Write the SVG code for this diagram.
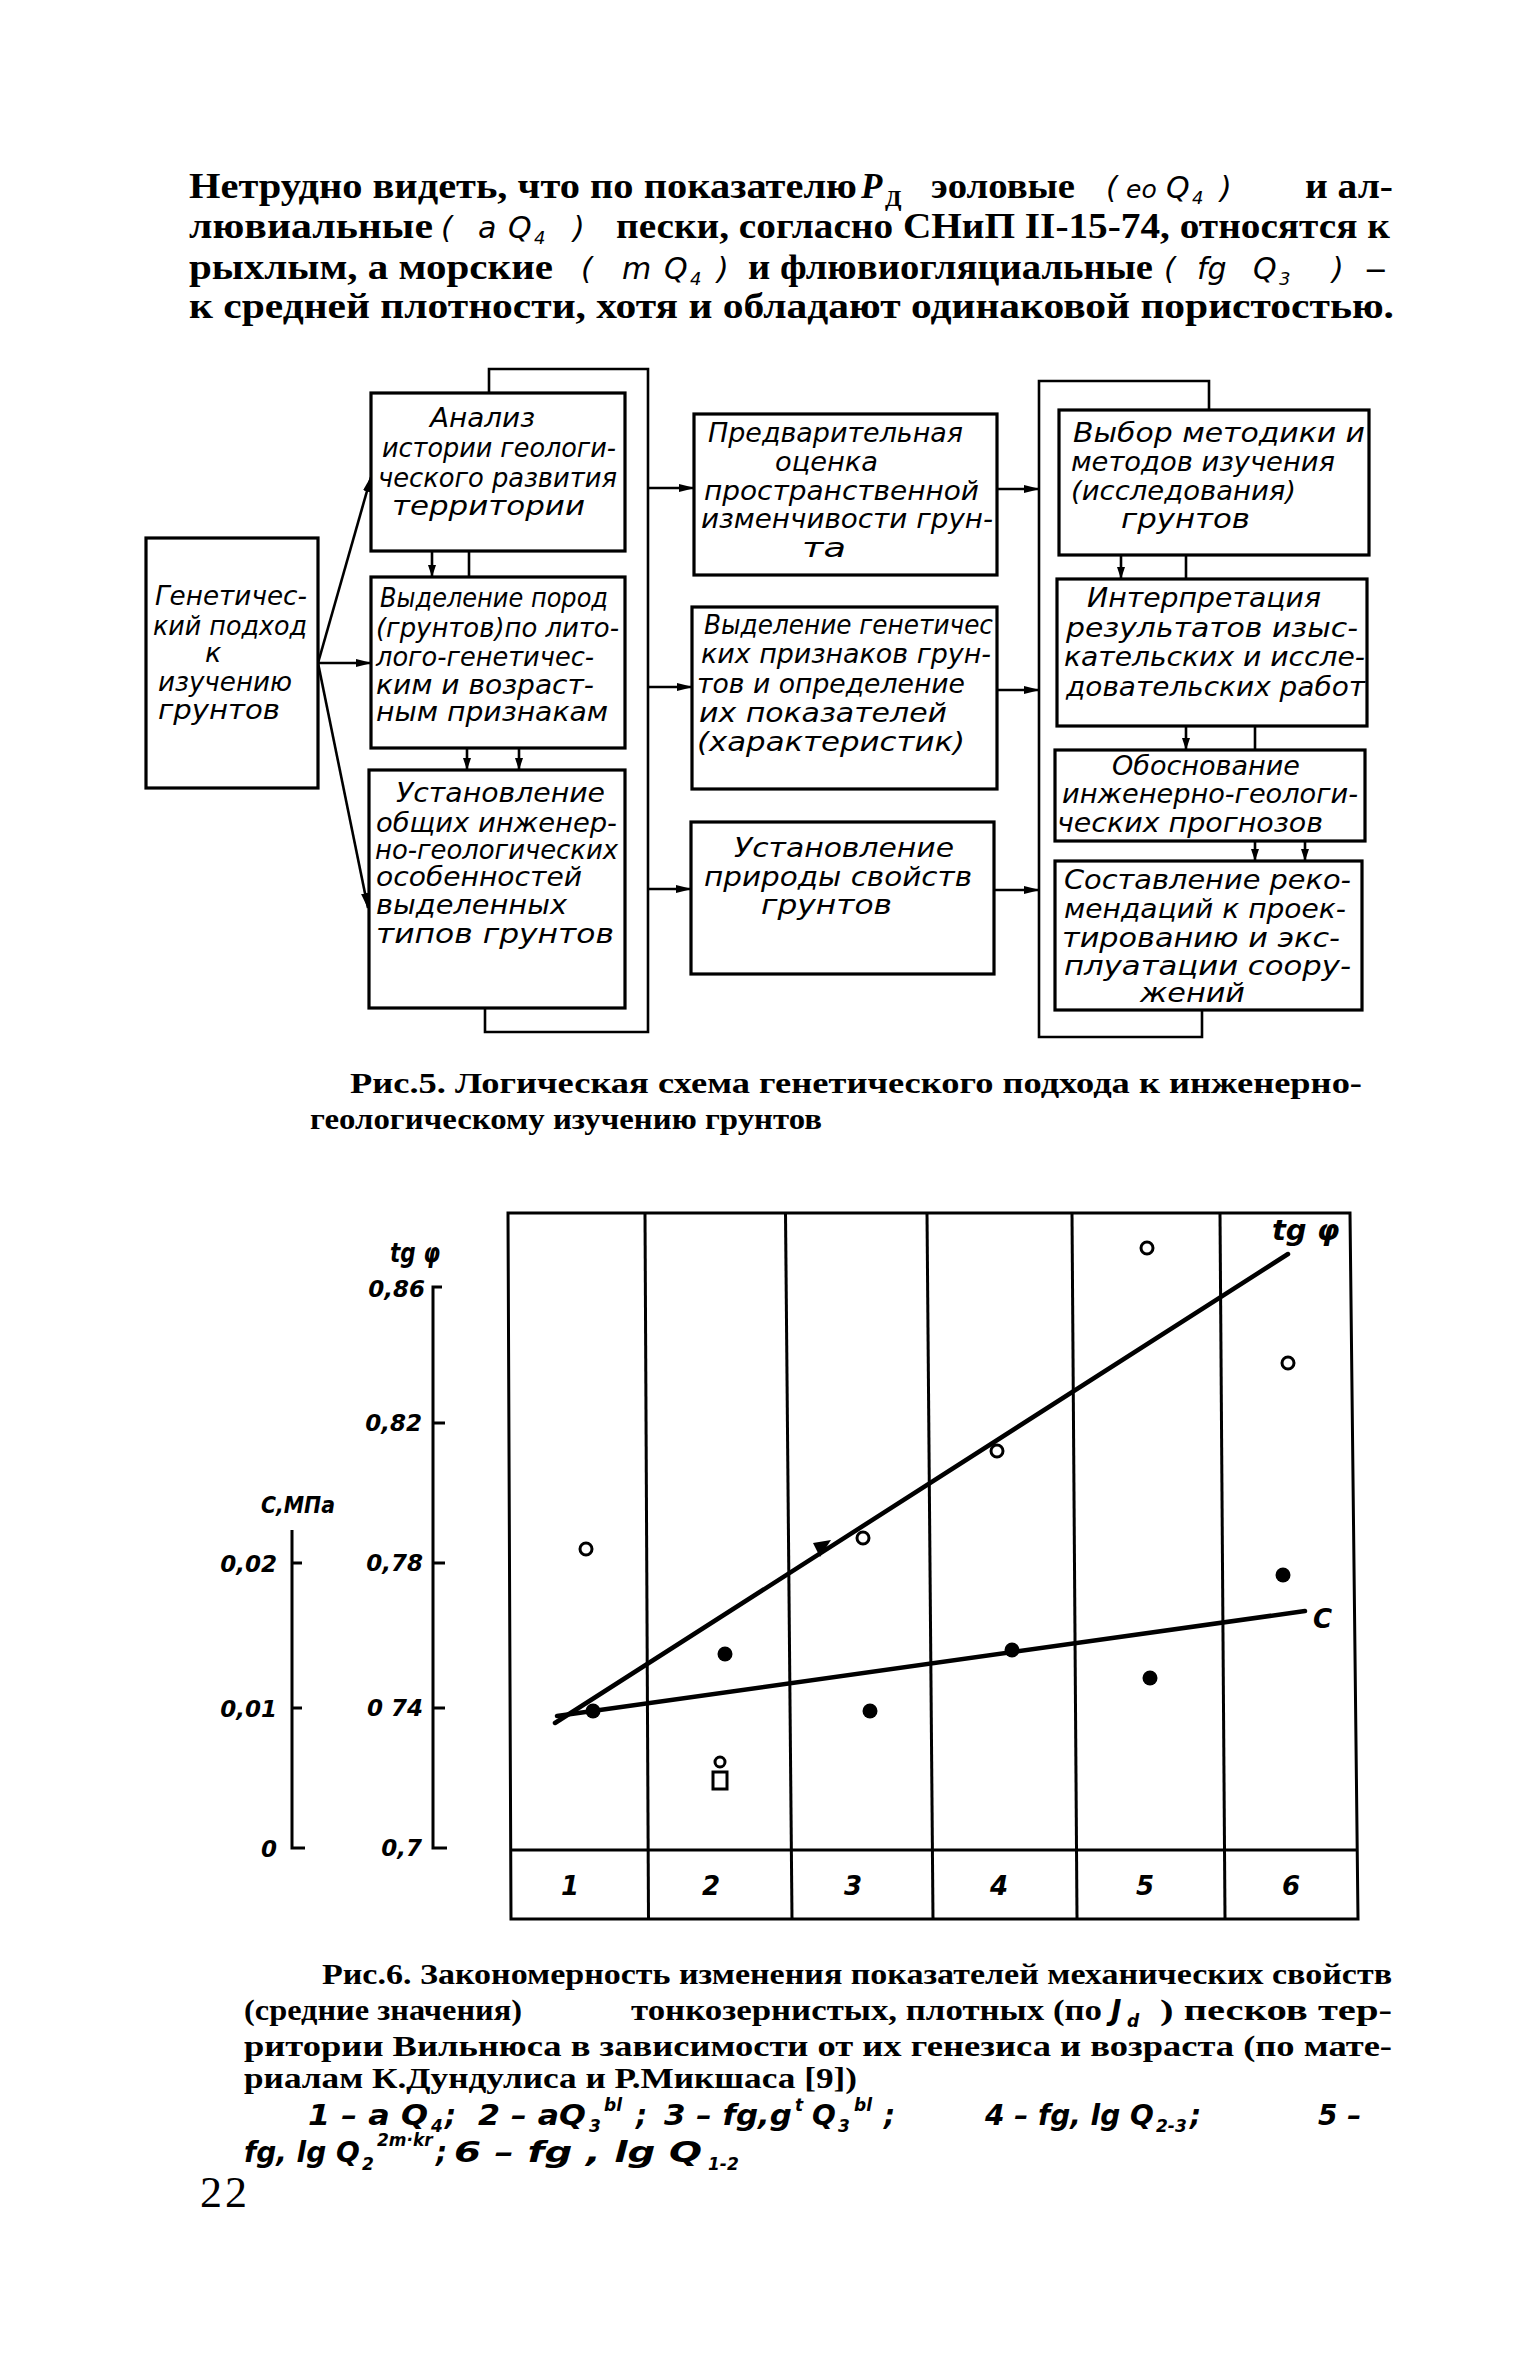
<svg xmlns="http://www.w3.org/2000/svg" width="1536" height="2363" viewBox="0 0 1536 2363">
<style>
.bg{fill:#fff}
.box{fill:#fff;stroke:#000;stroke-width:3.2}
.ln{fill:none;stroke:#000;stroke-width:2.6}
.ax{fill:none;stroke:#000;stroke-width:3}
.gl{fill:none;stroke:#000;stroke-width:3}
.dl{fill:none;stroke:#000;stroke-width:4.5;stroke-linecap:round}
.oc{fill:#fff;stroke:#000;stroke-width:3}
.fc{fill:#000}
.hw{font-family:"DejaVu Sans","Noto Sans",sans-serif;font-style:oblique;font-size:27px;fill:#000}
.hwb{font-family:"DejaVu Sans","Noto Sans",sans-serif;font-style:oblique;font-weight:bold;font-size:23px;fill:#000}
.hwc{font-family:"DejaVu Sans","Noto Sans",sans-serif;font-style:oblique;font-weight:bold;font-size:28px;fill:#000}
.hs{font-family:"DejaVu Sans","Noto Sans",sans-serif;font-style:oblique;font-weight:bold;font-size:17px;fill:#000}
.tx{font-family:"Liberation Serif","DejaVu Serif",serif;font-weight:bold;font-size:35px;fill:#000}
.txi{font-family:"Liberation Serif","DejaVu Serif",serif;font-weight:bold;font-style:italic;font-size:35px;fill:#000}
.txs{font-family:"Liberation Serif","DejaVu Serif",serif;font-weight:bold;font-size:24px;fill:#000}
.cp{font-family:"Liberation Serif","DejaVu Serif",serif;font-weight:bold;font-size:30px;fill:#000}
.pg{font-family:"Liberation Serif","DejaVu Serif",serif;font-size:44px;fill:#000}
.hp{font-family:"DejaVu Sans","Noto Sans",sans-serif;font-style:oblique;font-size:30px;fill:#000}
.hpe{font-family:"DejaVu Sans","Noto Sans",sans-serif;font-style:oblique;font-size:25px;fill:#000}
.hps{font-family:"DejaVu Sans","Noto Sans",sans-serif;font-style:oblique;font-size:18px;fill:#000}
.lbl{font-family:"DejaVu Sans","Noto Sans",sans-serif;font-style:oblique;font-weight:bold;font-size:26px;fill:#000}
.big{font-family:"DejaVu Sans","Noto Sans",sans-serif;font-style:oblique;font-weight:bold;font-size:29px;fill:#000}
</style>
<defs>
<marker id="ah" markerWidth="16" markerHeight="8" refX="15" refY="4" orient="auto" markerUnits="userSpaceOnUse"><path d="M0,0 L16,4 L0,8 z" fill="#000"/></marker>
<marker id="ahs" markerWidth="12" markerHeight="8" refX="12" refY="4" orient="auto" markerUnits="userSpaceOnUse"><path d="M0,0 L12,4 L0,8 z" fill="#000"/></marker>
</defs>
<rect class="bg" x="0" y="0" width="1536" height="2363"/>

<g id="paragraph">
<text class="tx" x="189" y="198" textLength="668" lengthAdjust="spacingAndGlyphs">Нетрудно видеть, что по показателю</text>
<text class="txi" x="861" y="198">P</text>
<text class="txs" x="885" y="206">Д</text>
<text class="tx" x="931" y="198" textLength="144" lengthAdjust="spacingAndGlyphs">эоловые</text>
<text class="hp" x="1106" y="198">(</text>
<text class="hpe" x="1126" y="198">eo</text>
<text class="hp" x="1166" y="198">Q</text>
<text class="hps" x="1192" y="204">4</text>
<text class="hp" x="1220" y="198">)</text>
<text class="tx" x="1305" y="198" textLength="88" lengthAdjust="spacingAndGlyphs">и ал-</text>

<text class="tx" x="189" y="238" textLength="244" lengthAdjust="spacingAndGlyphs">лювиальные</text>
<text class="hp" x="441" y="238">(</text>
<text class="hp" x="478" y="238">a</text>
<text class="hp" x="508" y="238">Q</text>
<text class="hps" x="534" y="244">4</text>
<text class="hp" x="573" y="238">)</text>
<text class="tx" x="616" y="238" textLength="774" lengthAdjust="spacingAndGlyphs">пески, согласно СНиП II-15-74, относятся к</text>

<text class="tx" x="189" y="279" textLength="364" lengthAdjust="spacingAndGlyphs">рыхлым, а морские</text>
<text class="hp" x="581" y="279">(</text>
<text class="hp" x="622" y="279">m</text>
<text class="hp" x="664" y="279">Q</text>
<text class="hps" x="690" y="285">4</text>
<text class="hp" x="717" y="279">)</text>
<text class="tx" x="748" y="279" textLength="405" lengthAdjust="spacingAndGlyphs">и флювиогляциальные</text>
<text class="hp" x="1164" y="279">(</text>
<text class="hp" x="1197" y="279">fg</text>
<text class="hp" x="1253" y="279">Q</text>
<text class="hps" x="1279" y="285">3</text>
<text class="hp" x="1332" y="279">)</text>
<text class="tx" x="1367" y="279">–</text>

<text class="tx" x="189" y="318" textLength="1205" lengthAdjust="spacingAndGlyphs">к средней плотности, хотя и обладают одинаковой пористостью.</text>
</g>

<g id="connectors">
<line class="ln" x1="318" y1="663" x2="371" y2="477" marker-end="url(#ah)"/>
<line class="ln" x1="318" y1="663" x2="371" y2="663" marker-end="url(#ah)"/>
<line class="ln" x1="318" y1="663" x2="368" y2="908" marker-end="url(#ah)"/>
<line class="ln" x1="432" y1="551" x2="432" y2="577" marker-end="url(#ahs)"/>
<line class="ln" x1="469" y1="551" x2="469" y2="577"/>
<line class="ln" x1="467" y1="748" x2="467" y2="770" marker-end="url(#ahs)"/>
<line class="ln" x1="519" y1="748" x2="519" y2="770" marker-end="url(#ahs)"/>
<path class="ln" d="M489,393 V369 H648 V1032 H485 V1008"/>
<line class="ln" x1="648" y1="488" x2="694" y2="488" marker-end="url(#ah)"/>
<line class="ln" x1="648" y1="687" x2="692" y2="687" marker-end="url(#ah)"/>
<line class="ln" x1="648" y1="889" x2="691" y2="889" marker-end="url(#ah)"/>
<line class="ln" x1="997" y1="489" x2="1039" y2="489" marker-end="url(#ah)"/>
<line class="ln" x1="997" y1="690" x2="1039" y2="690" marker-end="url(#ah)"/>
<line class="ln" x1="994" y1="890" x2="1039" y2="890" marker-end="url(#ah)"/>
<path class="ln" d="M1209,410 V381 H1039 V1037 H1202 V1010"/>
<line class="ln" x1="1121" y1="555" x2="1121" y2="579" marker-end="url(#ahs)"/>
<line class="ln" x1="1186" y1="555" x2="1186" y2="579"/>
<line class="ln" x1="1186" y1="726" x2="1186" y2="750" marker-end="url(#ahs)"/>
<line class="ln" x1="1255" y1="726" x2="1255" y2="750"/>
<line class="ln" x1="1255" y1="841" x2="1255" y2="861" marker-end="url(#ahs)"/>
<line class="ln" x1="1305" y1="841" x2="1305" y2="861" marker-end="url(#ahs)"/>
</g>

<g id="n_gen">
<rect class="box" x="146" y="538" width="172" height="250"/>
<text class="hw" x="155" y="605" textLength="152" lengthAdjust="spacingAndGlyphs">Генетичес-</text>
<text class="hw" x="153" y="635" textLength="154" lengthAdjust="spacingAndGlyphs">кий подход</text>
<text class="hw" x="205" y="662">к</text>
<text class="hw" x="158" y="691" textLength="134" lengthAdjust="spacingAndGlyphs">изучению</text>
<text class="hw" x="158" y="719" textLength="122" lengthAdjust="spacingAndGlyphs">грунтов</text>
</g>

<g id="n_a">
<rect class="box" x="371" y="393" width="254" height="158"/>
<text class="hw" x="430" y="427" textLength="105" lengthAdjust="spacingAndGlyphs">Анализ</text>
<text class="hw" x="382" y="457" textLength="234" lengthAdjust="spacingAndGlyphs">истории геологи-</text>
<text class="hw" x="378" y="487" textLength="239" lengthAdjust="spacingAndGlyphs">ческого развития</text>
<text class="hw" x="392" y="515" textLength="193" lengthAdjust="spacingAndGlyphs">территории</text>
</g>

<g id="n_b">
<rect class="box" x="371" y="577" width="254" height="171"/>
<text class="hw" x="380" y="607" textLength="228" lengthAdjust="spacingAndGlyphs">Выделение пород</text>
<text class="hw" x="376" y="637" textLength="243" lengthAdjust="spacingAndGlyphs">(грунтов)по лито-</text>
<text class="hw" x="376" y="666" textLength="218" lengthAdjust="spacingAndGlyphs">лого-генетичес-</text>
<text class="hw" x="376" y="694" textLength="218" lengthAdjust="spacingAndGlyphs">ким и возраст-</text>
<text class="hw" x="376" y="721" textLength="232" lengthAdjust="spacingAndGlyphs">ным признакам</text>
</g>

<g id="n_c">
<rect class="box" x="369" y="770" width="256" height="238"/>
<text class="hw" x="396" y="802" textLength="209" lengthAdjust="spacingAndGlyphs">Установление</text>
<text class="hw" x="376" y="832" textLength="241" lengthAdjust="spacingAndGlyphs">общих инженер-</text>
<text class="hw" x="375" y="859" textLength="243" lengthAdjust="spacingAndGlyphs">но-геологических</text>
<text class="hw" x="376" y="886" textLength="206" lengthAdjust="spacingAndGlyphs">особенностей</text>
<text class="hw" x="376" y="914" textLength="191" lengthAdjust="spacingAndGlyphs">выделенных</text>
<text class="hw" x="376" y="943" textLength="238" lengthAdjust="spacingAndGlyphs">типов грунтов</text>
</g>

<g id="n_d">
<rect class="box" x="694" y="414" width="303" height="161"/>
<text class="hw" x="708" y="442" textLength="255" lengthAdjust="spacingAndGlyphs">Предварительная</text>
<text class="hw" x="775" y="471" textLength="103" lengthAdjust="spacingAndGlyphs">оценка</text>
<text class="hw" x="704" y="500" textLength="275" lengthAdjust="spacingAndGlyphs">пространственной</text>
<text class="hw" x="701" y="528" textLength="292" lengthAdjust="spacingAndGlyphs">изменчивости грун-</text>
<text class="hw" x="802" y="557" textLength="44" lengthAdjust="spacingAndGlyphs">та</text>
</g>

<g id="n_e">
<rect class="box" x="692" y="607" width="305" height="182"/>
<text class="hw" x="704" y="634" textLength="289" lengthAdjust="spacingAndGlyphs">Выделение генетичес</text>
<text class="hw" x="701" y="663" textLength="290" lengthAdjust="spacingAndGlyphs">ких признаков грун-</text>
<text class="hw" x="697" y="693" textLength="268" lengthAdjust="spacingAndGlyphs">тов и определение</text>
<text class="hw" x="699" y="722" textLength="248" lengthAdjust="spacingAndGlyphs">их показателей</text>
<text class="hw" x="697" y="751" textLength="268" lengthAdjust="spacingAndGlyphs">(характеристик)</text>
</g>

<g id="n_f">
<rect class="box" x="691" y="822" width="303" height="152"/>
<text class="hw" x="734" y="857" textLength="220" lengthAdjust="spacingAndGlyphs">Установление</text>
<text class="hw" x="704" y="886" textLength="268" lengthAdjust="spacingAndGlyphs">природы свойств</text>
<text class="hw" x="761" y="914" textLength="131" lengthAdjust="spacingAndGlyphs">грунтов</text>
</g>

<g id="n_g">
<rect class="box" x="1059" y="410" width="310" height="145"/>
<text class="hw" x="1073" y="442" textLength="292" lengthAdjust="spacingAndGlyphs">Выбор методики и</text>
<text class="hw" x="1071" y="471" textLength="264" lengthAdjust="spacingAndGlyphs">методов изучения</text>
<text class="hw" x="1071" y="500" textLength="225" lengthAdjust="spacingAndGlyphs">(исследования)</text>
<text class="hw" x="1121" y="528" textLength="129" lengthAdjust="spacingAndGlyphs">грунтов</text>
</g>

<g id="n_h">
<rect class="box" x="1057" y="579" width="310" height="147"/>
<text class="hw" x="1087" y="607" textLength="234" lengthAdjust="spacingAndGlyphs">Интерпретация</text>
<text class="hw" x="1066" y="637" textLength="292" lengthAdjust="spacingAndGlyphs">результатов изыс-</text>
<text class="hw" x="1064" y="666" textLength="301" lengthAdjust="spacingAndGlyphs">кательских и иссле-</text>
<text class="hw" x="1066" y="696" textLength="299" lengthAdjust="spacingAndGlyphs">довательских работ</text>
</g>

<g id="n_i">
<rect class="box" x="1055" y="750" width="310" height="91"/>
<text class="hw" x="1112" y="775" textLength="188" lengthAdjust="spacingAndGlyphs">Обоснование</text>
<text class="hw" x="1062" y="803" textLength="296" lengthAdjust="spacingAndGlyphs">инженерно-геологи-</text>
<text class="hw" x="1057" y="832" textLength="266" lengthAdjust="spacingAndGlyphs">ческих прогнозов</text>
</g>

<g id="n_j">
<rect class="box" x="1055" y="861" width="307" height="149"/>
<text class="hw" x="1064" y="889" textLength="287" lengthAdjust="spacingAndGlyphs">Составление реко-</text>
<text class="hw" x="1064" y="918" textLength="282" lengthAdjust="spacingAndGlyphs">мендаций к проек-</text>
<text class="hw" x="1062" y="947" textLength="278" lengthAdjust="spacingAndGlyphs">тированию и экс-</text>
<text class="hw" x="1064" y="975" textLength="287" lengthAdjust="spacingAndGlyphs">плуатации соору-</text>
<text class="hw" x="1140" y="1002" textLength="105" lengthAdjust="spacingAndGlyphs">жений</text>
</g>

<g id="caption5">
<text class="cp" x="350" y="1093" textLength="1012" lengthAdjust="spacingAndGlyphs">Рис.5. Логическая схема генетического подхода к инженерно-</text>
<text class="cp" x="310" y="1129" textLength="512" lengthAdjust="spacingAndGlyphs">геологическому изучению грунтов</text>
</g>

<g id="chart">
<path class="gl" d="M508,1213 H1350 L1358,1919 H511 Z"/>
<line class="gl" x1="511" y1="1850" x2="1357" y2="1850"/>
<line class="gl" x1="645" y1="1213" x2="648.5" y2="1919"/>
<line class="gl" x1="785.5" y1="1213" x2="792" y2="1919"/>
<line class="gl" x1="927" y1="1213" x2="933" y2="1919"/>
<line class="gl" x1="1072" y1="1213" x2="1077" y2="1919"/>
<line class="gl" x1="1220" y1="1213" x2="1225" y2="1919"/>

<path class="ax" d="M442,1287 H433 V1848 H447 M433,1423 H445 M433,1563 H445 M433,1708 H445"/>
<path class="ax" d="M292,1530 V1848 H305 M292,1563 H302 M292,1708 H302"/>

<text class="lbl" x="390" y="1262" textLength="50" lengthAdjust="spacingAndGlyphs">tg φ</text>
<text class="hwb" x="425" y="1297" text-anchor="end">0,86</text>
<text class="hwb" x="422" y="1431" text-anchor="end">0,82</text>
<text class="hwb" x="423" y="1571" text-anchor="end">0,78</text>
<text class="hwb" x="423" y="1716" text-anchor="end">0 74</text>
<text class="hwb" x="422" y="1856" text-anchor="end">0,7</text>
<text class="hwb" x="261" y="1513" textLength="74" lengthAdjust="spacingAndGlyphs">С,МПа</text>
<text class="hwb" x="277" y="1572" text-anchor="end">0,02</text>
<text class="hwb" x="277" y="1717" text-anchor="end">0,01</text>
<text class="hwb" x="277" y="1857" text-anchor="end">0</text>

<line class="dl" x1="555" y1="1723" x2="1288" y2="1254"/>
<line class="dl" x1="557" y1="1716" x2="1305" y2="1611"/>
<polygon class="fc" points="831,1540 813,1543 820,1557"/>

<circle class="oc" cx="586" cy="1549" r="6"/>
<circle class="oc" cx="863" cy="1538" r="6"/>
<circle class="oc" cx="997" cy="1451" r="6"/>
<circle class="oc" cx="1147" cy="1248" r="6"/>
<circle class="oc" cx="1288" cy="1363" r="6"/>
<circle class="oc" cx="720" cy="1762" r="5"/>
<rect class="oc" x="713" y="1772" width="14" height="17"/>
<circle class="fc" cx="593" cy="1711" r="7.5"/>
<circle class="fc" cx="725" cy="1654" r="7.5"/>
<circle class="fc" cx="870" cy="1711" r="7.5"/>
<circle class="fc" cx="1012" cy="1650" r="7.5"/>
<circle class="fc" cx="1150" cy="1678" r="7.5"/>
<circle class="fc" cx="1283" cy="1575" r="7.5"/>

<text class="big" x="1272" y="1240">tg φ</text>
<text class="lbl" x="1313" y="1628">C</text>

<text class="lbl" x="570" y="1895" text-anchor="middle">1</text>
<text class="lbl" x="711" y="1895" text-anchor="middle">2</text>
<text class="lbl" x="853" y="1895" text-anchor="middle">3</text>
<text class="lbl" x="999" y="1895" text-anchor="middle">4</text>
<text class="lbl" x="1145" y="1895" text-anchor="middle">5</text>
<text class="lbl" x="1291" y="1895" text-anchor="middle">6</text>
</g>

<g id="caption6">
<text class="cp" x="322" y="1984" textLength="1070" lengthAdjust="spacingAndGlyphs">Рис.6. Закономерность изменения показателей механических свойств</text>
<text class="cp" x="244" y="2020" textLength="278" lengthAdjust="spacingAndGlyphs">(средние значения)</text>
<text class="cp" x="631" y="2020" textLength="471" lengthAdjust="spacingAndGlyphs">тонкозернистых, плотных (по</text>
<text class="hwc" x="1111" y="2020">J</text>
<text class="hs" x="1127" y="2027">d</text>
<text class="cp" x="1160" y="2020" textLength="232" lengthAdjust="spacingAndGlyphs">) песков тер-</text>
<text class="cp" x="244" y="2056" textLength="1148" lengthAdjust="spacingAndGlyphs">ритории Вильнюса в зависимости от их генезиса и возраста (по мате-</text>
<text class="cp" x="244" y="2088" textLength="613" lengthAdjust="spacingAndGlyphs">риалам К.Дундулиса и Р.Микшаса [9])</text>

<text class="hwc" x="308" y="2125" textLength="120" lengthAdjust="spacingAndGlyphs">1 – a Q</text>
<text class="hs" x="431" y="2132">4</text>
<text class="hwc" x="445" y="2125">;</text>
<text class="hwc" x="478" y="2125" textLength="108" lengthAdjust="spacingAndGlyphs">2 – aQ</text>
<text class="hs" x="589" y="2132">3</text>
<text class="hs" x="604" y="2111">bl</text>
<text class="hwc" x="636" y="2125">;</text>
<text class="hwc" x="664" y="2125" textLength="128" lengthAdjust="spacingAndGlyphs">3 – fg,g</text>
<text class="hs" x="795" y="2111">t</text>
<text class="hwc" x="812" y="2125">Q</text>
<text class="hs" x="838" y="2132">3</text>
<text class="hs" x="854" y="2111">bl</text>
<text class="hwc" x="884" y="2125">;</text>
<text class="hwc" x="985" y="2125">4 – fg, lg Q</text>
<text class="hs" x="1156" y="2132">2-3</text>
<text class="hwc" x="1190" y="2125">;</text>
<text class="hwc" x="1318" y="2125">5 –</text>

<text class="hwc" x="244" y="2162">fg, lg Q</text>
<text class="hs" x="362" y="2170">2</text>
<text class="hs" x="377" y="2146">2m·kr</text>
<text class="hwc" x="436" y="2162">;</text>
<text class="hwc" x="454" y="2162" textLength="248" lengthAdjust="spacingAndGlyphs">6 – fg , lg Q</text>
<text class="hs" x="708" y="2170">1-2</text>

<text class="pg" x="200" y="2207" letter-spacing="3">22</text>
</g>
</svg>
